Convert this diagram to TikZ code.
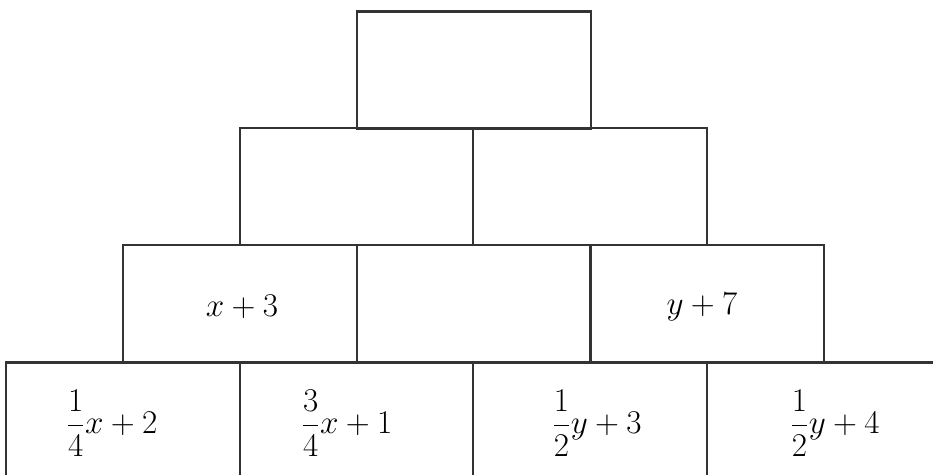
\documentclass[tikz,border=0pt]{standalone}
\usepackage{amsmath}
\begin{document}
\begin{tikzpicture}[x=0.75pt,y=-0.75pt,
  box/.style={draw=black!80,line width=1.6pt,minimum width=175pt,minimum height=87.75pt,inner sep=0pt},
  lbl/.style={font=\fontsize{23}{28}\selectfont,inner sep=0pt}]
\useasboundingbox (0,0) rectangle (933,475);
\clip (0,0) rectangle (933,475);
\fill[white] (0,0) rectangle (933,475);
% row 1
\node[box] (t) at (474,70) {};
% row 2
\node[box] (b21) at (356.5,186.5) {};
\node[box] (b22) at (590,186.5) {};
% row 3
\node[box] (b31) at (240,303.5) {};
\node[box] (b32) at (473.5,303.5) {};
\node[box] (b33) at (707.5,303.5) {};
% row 4
\node[box] (b41) at (123,421) {};
\node[box] (b42) at (356.5,421) {};
\node[box] (b43) at (590,421) {};
\node[box] (b44) at (823.5,421) {};
% labels
\node[lbl] (l31) at (242,307) {$x+3$};
\node[lbl] (l33) at (702,307) {$y+7$};
\node[lbl] (l41) at (112,423) {$\dfrac{1}{4}x+2$};
\node[lbl] (l42) at (347,423) {$\dfrac{3}{4}x+1$};
\node[lbl] (l43) at (597,423) {$\dfrac{1}{2}y+3$};
\node[lbl] (l44) at (835,423) {$\dfrac{1}{2}y+4$};
\end{tikzpicture}
\end{document}
